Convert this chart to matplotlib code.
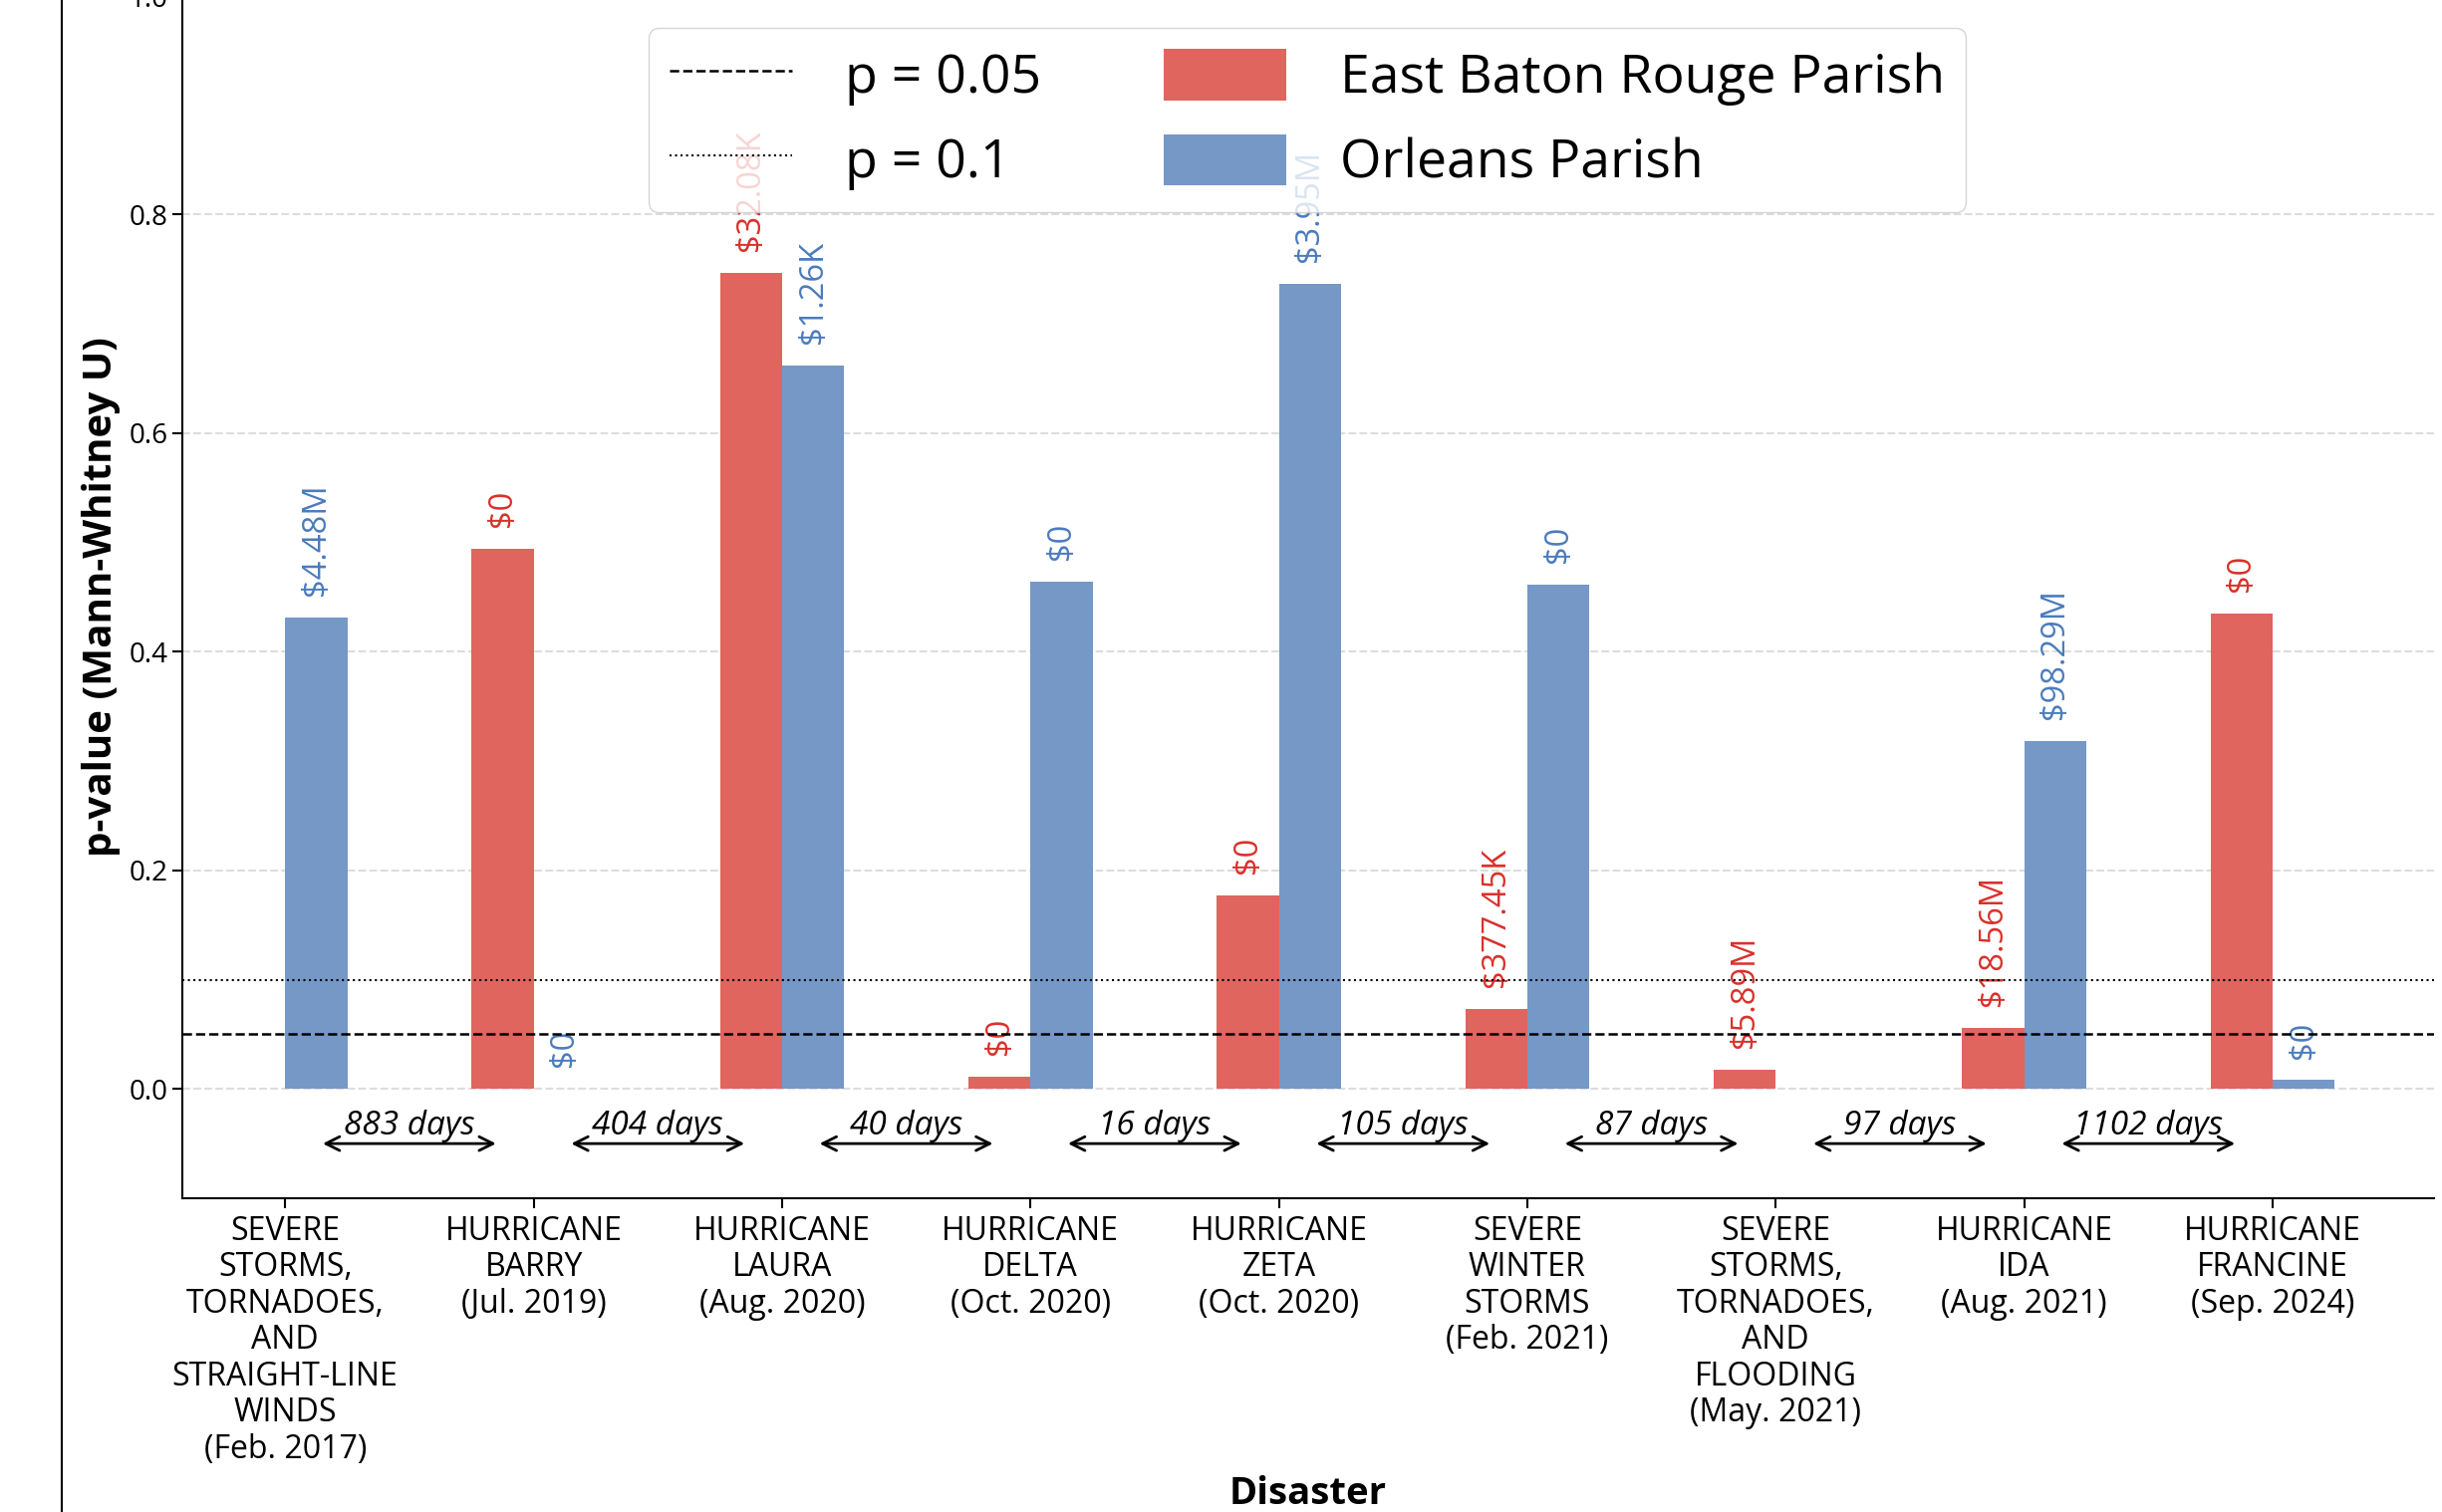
import matplotlib
matplotlib.use("Agg")
import matplotlib.pyplot as plt
from matplotlib.lines import Line2D
import numpy as np

plt.rcParams['font.family'] = ['Open Sans', 'DejaVu Sans']

categories = [
    "SEVERE\nSTORMS,\nTORNADOES,\nAND\nSTRAIGHT-LINE\nWINDS\n(Feb. 2017)",
    "HURRICANE\nBARRY\n(Jul. 2019)",
    "HURRICANE\nLAURA\n(Aug. 2020)",
    "HURRICANE\nDELTA\n(Oct. 2020)",
    "HURRICANE\nZETA\n(Oct. 2020)",
    "SEVERE\nWINTER\nSTORMS\n(Feb. 2021)",
    "SEVERE\nSTORMS,\nTORNADOES,\nAND\nFLOODING\n(May. 2021)",
    "HURRICANE\nIDA\n(Aug. 2021)",
    "HURRICANE\nFRANCINE\n(Sep. 2024)",
]
ebr_p = [np.nan, 0.494, 0.747, 0.011, 0.177, 0.073, 0.018, 0.056, 0.435]
ebr_labels = [None, "$0", "$32.08K", "$0", "$0", "$377.45K", "$5.89M", "$18.56M", "$0"]
orl_p = [0.431, 0.0, 0.662, 0.464, 0.737, 0.461, np.nan, 0.318, 0.008]
orl_labels = ["$4.48M", "$0", "$1.26K", "$0", "$3.95M", "$0", None, "$98.29M", "$0"]
gap_days = [883, 404, 40, 16, 105, 87, 97, 1102]

red = "#e0655e"
blue = "#7598c6"
red_txt = "#d9302a"
blue_txt = "#4a7bbd"

W, H = 2451, 1518
fig = plt.figure(figsize=(W / 100, H / 100), dpi=100)
ax = fig.add_axes([183 / W, (H - 1203) / H, (2443 - 183) / W, (1203 + 4) / H])

x = np.arange(len(categories))
w = 0.25
ax.bar(x - w / 2, ebr_p, w, color=red, label="East Baton Rouge Parish", zorder=2)
ax.bar(x + w / 2, orl_p, w, color=blue, label="Orleans Parish", zorder=2)

for i in range(len(categories)):
    if ebr_labels[i] is not None:
        ax.text(x[i] - w / 2, ebr_p[i] + 0.02, ebr_labels[i].replace("$", r"\$"),
                rotation=90, ha="center", va="bottom", color=red_txt, fontsize=23.5)
    if orl_labels[i] is not None:
        ax.text(x[i] + w / 2, orl_p[i] + 0.02, orl_labels[i].replace("$", r"\$"),
                rotation=90, ha="center", va="bottom", color=blue_txt, fontsize=23.5)

ax.axhline(0.05, color="black", linestyle="--", lw=1.8, label="p = 0.05", zorder=3)
ax.axhline(0.1, color="black", linestyle=":", lw=1.5, label="p = 0.1", zorder=3)

# time between disasters
for i, d in enumerate(gap_days):
    ax.annotate("", xy=(i + 0.86, -0.05), xytext=(i + 0.14, -0.05),
                arrowprops=dict(arrowstyle="<->", lw=2, color="black",
                                mutation_scale=25))
    ax.text(i + 0.5, -0.049, f"{d} days", ha="center", va="bottom",
            fontsize=24, style="italic")

ax.set_xlim(-0.414, 8.65)
ax.set_ylim(-0.1, 1.0)
ax.set_yticks(np.arange(0, 1.01, 0.2))
ax.set_xticks(x)
ax.set_xticklabels(categories, fontsize=23, linespacing=1.14)
ax.tick_params(axis="y", labelsize=20, length=7, width=1.5)
ax.tick_params(axis="x", length=7, width=1.5, pad=5)
ax.grid(axis="y", linestyle="--", color="#dddddd", lw=1.5, zorder=0)
ax.set_axisbelow(True)
for s in ["top", "right"]:
    ax.spines[s].set_visible(False)
for s in ["left", "bottom"]:
    ax.spines[s].set_linewidth(1.5)

ax.set_ylabel("p-value (Mann-Whitney U)", fontsize=29, fontweight="bold", labelpad=6)
ax.set_xlabel("Disaster", fontsize=27.5, fontweight="bold", labelpad=7)

handles, labels = ax.get_legend_handles_labels()
order = [labels.index("p = 0.05"), labels.index("p = 0.1"),
         labels.index("East Baton Rouge Parish"), labels.index("Orleans Parish")]
ax.legend([handles[k] for k in order], [labels[k] for k in order],
          ncol=2, loc="upper center", bbox_to_anchor=(1312 / W, 1 - 28 / H),
          bbox_transform=fig.transFigure, borderaxespad=0, fontsize=38.5,
          handlelength=2.3, handletextpad=1.0, labelspacing=0.53,
          columnspacing=2.3, handleheight=1.1)

# left border line from the surrounding figure
fig.add_artist(Line2D([62 / W, 62 / W], [0, 1], transform=fig.transFigure,
                      color="black", lw=1.5))

fig.savefig("out.png", dpi=100)
